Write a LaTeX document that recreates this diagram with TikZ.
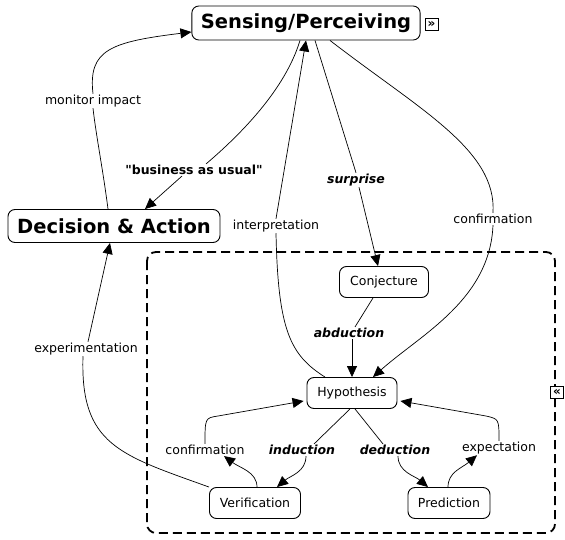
\documentclass[tikz,border=0pt]{standalone}
\usepackage{fontspec}
\setmainfont{DejaVu Sans}[Ligatures=TeXOff]
\usetikzlibrary{arrows.meta}

\tikzset{
	concept/.style={draw, line width=0.9pt, rounded corners=7pt, fill=white,
		minimum height=31pt, inner xsep=8pt, font=\fontsize{12.5}{14}\selectfont},
	bigconcept/.style={concept, minimum height=34pt, inner xsep=9pt,
		font=\bfseries\fontsize{19.5}{22}\selectfont},
	phrase/.style={inner sep=1pt, font=\fontsize{12.5}{14}\selectfont},
	boldphrase/.style={phrase, font=\bfseries\itshape\fontsize{12.5}{14}\selectfont},
	expander/.style={draw, line width=0.7pt, inner sep=0pt, minimum width=13pt,
		minimum height=12pt, font=\bfseries\fontsize{12}{12}\selectfont},
	conn/.style={line width=0.7pt, -{Triangle[length=11pt,width=10pt]}},
	line/.style={line width=0.7pt},
}

\begin{document}
\begin{tikzpicture}[x=1pt, y=-1pt]
\useasboundingbox (0,0) rectangle (565,540);

% grouping frame
\draw[line width=1.8pt, dash pattern=on 9pt off 5pt, rounded corners=9pt]
	(147,252) rectangle (555,533);

\node[bigconcept, minimum width=227pt] (sense) at (306,23) {Sensing/Perceiving};
\node[expander] (senseexp) at (431.5,24) {»};
\node[bigconcept, minimum width=212pt, minimum height=33pt] (decide) at (114,226) {Decision \& Action};
\node[concept, minimum width=89pt] (conj) at (384,282) {Conjecture};
\node[concept, minimum width=90pt] (hyp) at (352,393) {Hypothesis};
\node[concept, minimum width=91pt] (verif) at (255,503) {Verification};
\node[concept, minimum width=82pt] (pred) at (449,503) {Prediction};
\node[expander, fill=white] (groupexp) at (557,392) {«};

\node[phrase] (monitor) at (93,101) {monitor impact};
\node[boldphrase, font=\bfseries\fontsize{12.5}{14}\selectfont] (usual) at (194,170) {"business as usual"};
\node[boldphrase] (surprise) at (356,180) {surprise};
\node[phrase] (interp) at (276,226) {interpretation};
\node[phrase] (confirmtop) at (493,219) {confirmation};
\node[boldphrase] (abduct) at (349,333) {abduction};
\node[phrase] (experiment) at (86,349) {experimentation};
\node[phrase] (confirmlow) at (205,450) {confirmation};
\node[boldphrase] (induct) at (302,450) {induction};
\node[boldphrase] (deduct) at (395,450) {deduction};
\node[phrase] (expect) at (499,448) {expectation};

% decision -> sensing
\draw[line] ([xshift=-6pt]decide.north) .. controls (103,170) and (96,135) .. (monitor.south);
\draw[conn] (monitor.north) .. controls (88,50) and (110,42) .. ([yshift=-9pt]sense.west);

% sensing -> decision
\draw[line] ([xshift=-6pt]sense.south) .. controls (285,90) and (240,135) .. ([xshift=12pt]usual.north);
\draw[conn] ([xshift=-12pt]usual.south) -- ([xshift=31pt]decide.north);

% hypothesis -> sensing
\draw[line] ([xshift=-27pt]hyp.north) .. controls (290,355) and (278,330) .. (interp.south);
\draw[conn] (interp.north) -- (sense.south);

% sensing -> conjecture
\draw[line] ([xshift=9pt]sense.south) -- (surprise.north);
\draw[conn] ([xshift=3pt]surprise.south) -- ([xshift=-6pt]conj.north);

% sensing -> hypothesis
\draw[line] ([xshift=24pt]sense.south) .. controls (420,110) and (497,150) .. (confirmtop.north);
\draw[conn] (confirmtop.south) .. controls (490,300) and (420,335) .. ([xshift=21pt]hyp.north);

% conjecture -> hypothesis
\draw[line] ([xshift=-11pt]conj.south) -- ([xshift=6pt]abduct.north);
\draw[conn] ([xshift=3pt]abduct.south) -- (hyp.north);

% hypothesis -> verification / prediction
\draw[line] ([xshift=-2pt]hyp.south) -- ([xshift=12pt]induct.north);
\draw[conn] ([xshift=4pt]induct.south) .. controls (306,472) and (290,476) .. ([xshift=22pt]verif.north);
\draw[line] ([xshift=3pt]hyp.south) -- ([xshift=-12pt]deduct.north);
\draw[conn] ([xshift=3pt]deduct.south) .. controls (398,472) and (415,476) .. ([xshift=-21pt]pred.north);

% verification -> hypothesis
\draw[conn] ([xshift=2pt]verif.north) .. controls (257,472) and (240,468) .. ([xshift=19pt]confirmlow.south);
\draw[conn] (confirmlow.north) .. controls (205,418) .. (218,416) -- ([yshift=-8pt,xshift=-3pt]hyp.west);

% prediction -> hypothesis
\draw[conn] ([xshift=-1pt]pred.north) .. controls (448,472) and (462,468) .. ([xshift=-22pt]expect.south);
\draw[conn] (expect.north) .. controls (499,419) .. (486,416) -- ([yshift=-8pt,xshift=3pt]hyp.east);

% verification -> decision
\draw[line] (verif.north west) .. controls (120,455) and (80,445) .. ([xshift=-3pt]experiment.south);
\draw[conn] ([xshift=2pt]experiment.north) -- ([xshift=-4pt]decide.south);
\end{tikzpicture}
\end{document}
